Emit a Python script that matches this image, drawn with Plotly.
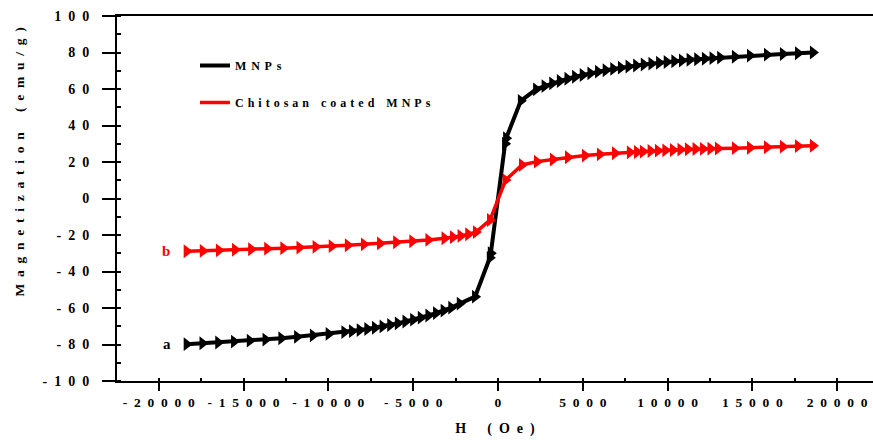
import plotly.graph_objects as go

# ---------------- data ----------------
H_mnp = [-18350, -17420, -16490, -15560, -14630, -13700, -12770, -11840, -10910, -9980,
         -9050, -8600, -8150, -7700, -7250, -6800, -6350, -5900, -5450, -5000,
         -4550, -4100, -3650, -3200, -2750, -2250, -1350, -480, -420,
         420, 480, 1350, 2250, 2750, 3200, 3650, 4100, 4550, 5000,
         5450, 5900, 6350, 6800, 7250, 7700, 8150, 8600, 9050, 9500,
         9950, 10400, 10850, 11300, 11750, 12200, 12650, 13100, 13970, 14860,
         15860, 16800, 17690, 18570]
M_mnp = [-79.8, -79.3, -78.9, -78.4, -77.9, -77.3, -76.6, -75.8, -75.0, -74.2,
         -73.2, -72.7, -72.1, -71.5, -70.8, -70.1, -69.3, -68.4, -67.4, -66.4,
         -65.3, -64.1, -62.8, -61.4, -59.8, -57.6, -53.8, -32.5, -30.0,
         30.0, 33.0, 53.5, 59.8, 61.6, 63.1, 64.4, 65.6, 66.7, 67.7,
         68.6, 69.5, 70.3, 71.0, 71.7, 72.3, 72.9, 73.4, 73.9, 74.4,
         74.8, 75.2, 75.6, 76.0, 76.3, 76.6, 76.9, 77.2, 77.7, 78.3,
         78.8, 79.2, 79.6, 80.0]

H_chi = [-18350, -17400, -16450, -15500, -14550, -13600, -12650, -11700, -10750, -9800,
         -8850, -7900, -6950, -6000, -5050, -4100, -3150, -2650, -2200, -1750,
         -1300, -470,
         450, 1415, 2300, 3240, 4130, 5130, 6010, 6900, 7780, 8200,
         8550, 9000, 9430, 9870, 10320, 10760, 11200, 11650, 12090, 12530,
         12970, 13970, 14860, 15860, 16800, 17690, 18570]
M_chi = [-28.9, -28.7, -28.4, -28.1, -27.8, -27.5, -27.2, -26.9, -26.5, -26.1,
         -25.6, -25.1, -24.6, -24.0, -23.4, -22.7, -21.8, -21.2, -20.5, -19.6,
         -18.4, -11.8,
         10.1, 18.4, 20.2, 21.4, 22.6, 23.5, 24.2, 24.8, 25.3, 25.5,
         25.7, 26.0, 26.2, 26.4, 26.6, 26.8, 27.0, 27.1, 27.2, 27.3,
         27.4, 27.6, 27.8, 28.1, 28.4, 28.7, 28.9]

series_names = ["MNPs", "Chitosan coated MNPs"]
x_ticks = [-20000, -15000, -10000, -5000, 0, 5000, 10000, 15000, 20000]
y_ticks = [-100, -80, -60, -40, -20, 0, 20, 40, 60, 80, 100]
x_title = "H (Oe)"
y_title = "Magnetization (emu/g)"
curve_labels = ["a", "b"]
label_pos = [(-19150, -79.5), (-19200, -28.5)]

# ---------------- styling ----------------
FONT = "Liberation Serif"


def spaced(s, gap="\u2002"):
    return gap.join(ch if ch != " " else gap for ch in s)


fig = go.Figure()

legend_names = [spaced(series_names[0], "\u2009\u2009"), spaced(series_names[1], "\u2004")]
for H, M, name, lname, col, lw in [(H_mnp, M_mnp, series_names[0], legend_names[0], "black", 4),
                                   (H_chi, M_chi, series_names[1], legend_names[1], "#ff0000", 3.5)]:
    fig.add_trace(go.Scatter(x=H, y=M, mode="lines", name=lname,
                             legendgroup=name,
                             line=dict(color=col, width=lw), showlegend=True))
    fig.add_trace(go.Scatter(x=H, y=M, mode="markers", showlegend=False,
                             marker=dict(symbol="triangle-right", size=12, color=col,
                                         line=dict(width=0))))

for (lx, ly), txt, col in zip(label_pos, curve_labels, ["black", "#ff0000"]):
    fig.add_annotation(x=lx, y=ly, text=txt, showarrow=False, xanchor="right",
                       font=dict(family=FONT, size=15, color=col, weight="bold"))

# y axis title as annotation (sits above the axis centre in the reference)
fig.add_annotation(xref="paper", yref="paper", x=-0.129, y=0.60, yanchor="middle",
                   xanchor="center", text=spaced(y_title),
                   textangle=-90, showarrow=False,
                   font=dict(family=FONT, size=13.5, color="black", weight="bold"))

fig.update_layout(
    width=873, height=447,
    margin=dict(l=117, r=0, t=16, b=66, autoexpand=False),
    paper_bgcolor="white", plot_bgcolor="white",
    font=dict(family=FONT, color="black", weight="bold"),
    legend=dict(x=(195 - 117) / 756, y=1 - (51 - 16) / 365,
                xanchor="left", yanchor="top", bgcolor="rgba(0,0,0,0)",
                font=dict(family=FONT, size=12, color="black", weight="bold"),
                traceorder="grouped", tracegroupgap=18),
    xaxis=dict(range=[-22460, 22110], showgrid=False, zeroline=False,
               showline=True, linecolor="black", linewidth=2, mirror=True,
               ticks="outside", ticklen=8, tickwidth=2, tickcolor="black",
               tickangle=0, automargin=False,
               tickvals=x_ticks, ticktext=[spaced(str(v)) for v in x_ticks],
               tickfont=dict(family=FONT, size=13.5, color="black", weight="bold"),
               ticklabelstandoff=0,
               minor=dict(dtick=2500, ticks="inside", ticklen=3, tickwidth=1.5, tickcolor="black"),
               title=dict(text=spaced(x_title), standoff=14,
                          font=dict(family=FONT, size=14, color="black", weight="bold"))),
    yaxis=dict(range=[-100, 100], showgrid=False, zeroline=False,
               showline=True, linecolor="black", linewidth=2, mirror=False,
               ticks="outside", ticklen=13, tickwidth=2, tickcolor="black",
               automargin=False,
               tickvals=y_ticks, ticktext=[spaced(str(v)) for v in y_ticks],
               tickfont=dict(family=FONT, size=14, color="black", weight="bold"),
               ticklabelstandoff=10,
               minor=dict(dtick=10, ticks="inside", ticklen=4, tickwidth=1.5, tickcolor="black")),
)

fig.write_html("out.html")
